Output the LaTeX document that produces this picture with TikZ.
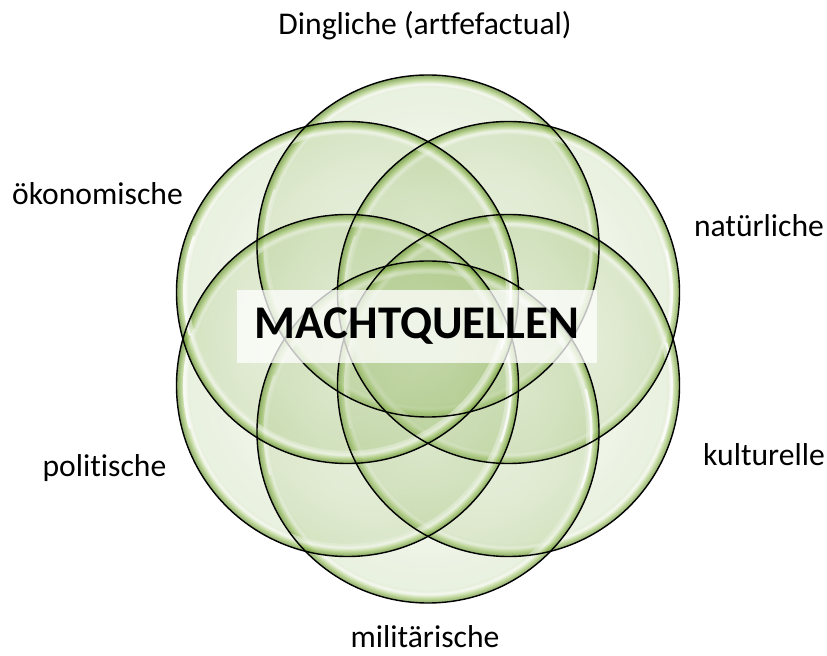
\documentclass[tikz,border=0pt]{standalone}
\usepackage{fontspec}
\setmainfont{Carlito}[Ligatures=NoCommon]
\usetikzlibrary{positioning}
\definecolor{lensIn}{HTML}{7FAA45}
\definecolor{lensEdge}{HTML}{A8CA72}
\definecolor{lensRim}{HTML}{4A7814}
\pgfdeclareradialshading{lens}{\pgfpoint{0bp}{0bp}}{color(0bp)=(lensIn!55!white); color(16bp)=(lensIn!75!white); color(22bp)=(lensIn); color(25bp)=(lensIn); color(50bp)=(lensIn)}
\pgfdeclareradialshading{lensring}{\pgfpoint{0bp}{0bp}}{color(0bp)=(lensIn!20!white); color(23.3bp)=(lensIn!20!white); color(23.7bp)=(white); color(24.3bp)=(lensEdge); color(25bp)=(lensRim); color(50bp)=(lensRim)}

\begin{document}
\begin{tikzpicture}[x=0.03cm, y=-0.03cm,
  lens/.style={shading=lens, fill opacity=0.17},
  ring/.style={shading=lensring, fill opacity=0.6, even odd rule},
  rim/.style={draw=black, line width=1.2pt},
  gloss/.style={draw=white, line width=2pt, opacity=0.75, line cap=round},
  lbl/.style={anchor=base, font=\fontsize{27}{32}\selectfont},
  title/.style={fill=white, fill opacity=0.75, text opacity=1, inner sep=0pt,
    minimum width=10.8cm, minimum height=2.19cm, font=\fontsize{40}{48}\selectfont\bfseries}
]
\useasboundingbox (0,0) rectangle (827,656);

% the six sources
\foreach \cx/\cy [count=\i] in {428/246, 508.5/292.5, 508.5/385.5, 428/432, 347.5/385.5, 347.5/292.5}
  \coordinate (c\i) at (\cx,\cy);
\foreach \i in {1,...,6} {
  \shade[lens] (c\i) circle[radius=5.13cm];
  \shade[ring] (c\i) circle[radius=5.13cm] (c\i) circle[radius=4.75cm];
  \draw[gloss] (c\i) ++(160:4.9cm) arc[start angle=160, end angle=195, radius=4.9cm];
  \draw[gloss] (c\i) ++(-20:4.9cm) arc[start angle=-20, end angle=15, radius=4.9cm];
}
\foreach \i in {1,...,6}
  \draw[rim] (c\i) circle[radius=5.13cm];

\node[title] (mq) at (417,326.5) {MACHTQUELLEN};

\node[lbl] (dingl) at (425,35) {Dingliche (artfefactual)};
\node[lbl] (natur) at (759,237) {natürliche};
\node[lbl] (kultur) at (764,466) {kulturelle};
\node[lbl] (milit) at (425,648) {militärische};
\node[lbl] (polit) at (104.5,477) {politische};
\node[lbl] (oekon) at (97.5,205) {ökonomische};
\end{tikzpicture}
\end{document}
